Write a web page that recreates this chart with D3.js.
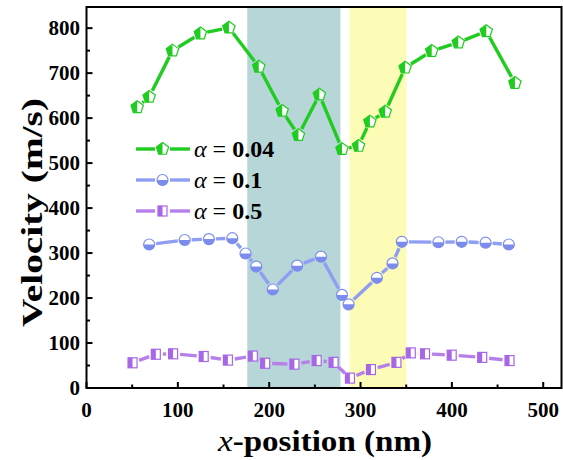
<!DOCTYPE html>
<html>
<head>
<meta charset="utf-8">
<script src="https://cdn.jsdelivr.net/npm/d3@7"></script>
<style>
  body { margin: 0; background: #fff; }
  text { font-family: "Liberation Serif", "Times New Roman", serif; }
</style>
</head>
<body>
<svg id="chart"></svg>
<script>
const width = 563;
const height = 460;

// data
const xGreen = [55.5, 68.6, 94.1, 124.7, 155.9, 188.6, 214.2, 232, 254.9, 279.7, 297.8, 310.2, 327, 348.8, 377.9, 407, 437.6, 469];
const vGreen = [624, 647, 750, 788, 801, 714, 616, 562, 652, 531, 538, 592, 614, 712, 749, 768, 793, 678];
const xBlue = [68.6, 107.5, 134, 159.6, 174.1, 185.8, 203.9, 230.6, 256.7, 279.7, 286.9, 317.9, 335, 345.2, 385.2, 410.7, 436.9, 462.3];
const vBlue = [319, 329, 331, 333, 299, 270, 219, 272, 292, 207, 186, 245, 277, 325, 324, 325, 323, 319];
const xPurple = [50.4, 75.9, 94.8, 128.3, 154.8, 182.1, 195.6, 227.6, 252, 270.5, 288.4, 311.4, 339.3, 355, 370.6, 399.8, 433.2, 463.1];
const vPurple = [56, 75, 76, 70, 62, 71, 55, 53, 61, 57, 22, 41, 57, 78, 76, 73, 68, 61];
const legendLabels = ["0.04", "0.1", "0.5"];
const xTicks = [0, 100, 200, 300, 400, 500];
const yTicks = [0, 100, 200, 300, 400, 500, 600, 700, 800];
const bands = [[176, 278], [288, 350]];

const margin = {top: 7, right: 1.5, bottom: 72, left: 86.5};

const svg = d3.select("#chart")
  .attr("width", width)
  .attr("height", height);

const x = d3.scaleLinear().domain([0, 520]).range([margin.left, width - margin.right]);
const y = d3.scaleLinear().domain([0, 847]).range([height - margin.bottom, margin.top]);

// shaded regions
const bandColors = ["#b6d6d8", "#fdfcb6"];
svg.selectAll("rect.band")
  .data(bands)
  .enter()
  .append("rect")
  .attr("class", "band")
  .attr("x", d => x(d[0]))
  .attr("width", d => x(d[1]) - x(d[0]))
  .attr("y", y(847))
  .attr("height", y(0) - y(847))
  .attr("fill", (d, i) => bandColors[i]);

// inward ticks, major every 100 and minor every 50
const gx = svg.append("g").attr("transform", "translate(0," + y(0) + ")");
gx.selectAll("line")
  .data(d3.range(0, 521, 50))
  .enter()
  .append("line")
  .attr("x1", d => x(d)).attr("x2", d => x(d))
  .attr("y1", 0).attr("y2", d => d % 100 === 0 ? -6 : -3.5)
  .attr("stroke", "#000").attr("stroke-width", 2);

const gy = svg.append("g").attr("transform", "translate(" + x(0) + ",0)");
gy.selectAll("line")
  .data(d3.range(0, 801, 50))
  .enter()
  .append("line")
  .attr("y1", d => y(d)).attr("y2", d => y(d))
  .attr("x1", 0).attr("x2", d => d % 100 === 0 ? 6 : 3.5)
  .attr("stroke", "#000").attr("stroke-width", 2);

// frame
svg.append("rect")
  .attr("x", x(0)).attr("y", y(847))
  .attr("width", x(520) - x(0)).attr("height", y(0) - y(847))
  .attr("fill", "none").attr("stroke", "#000").attr("stroke-width", 2);

// tick labels
svg.append("g").selectAll("text")
  .data(xTicks)
  .enter()
  .append("text")
  .attr("x", d => x(d))
  .attr("y", 417)
  .attr("text-anchor", "middle")
  .attr("font-size", 21)
  .attr("font-weight", "bold")
  .text(d => d);

svg.append("g").selectAll("text")
  .data(yTicks)
  .enter()
  .append("text")
  .attr("x", 80)
  .attr("y", d => y(d) + 7)
  .attr("text-anchor", "end")
  .attr("font-size", 21)
  .attr("font-weight", "bold")
  .text(d => d);

// axis titles (the original is a bit wider than the font, so stretch it)
const xt = svg.append("text")
  .attr("x", 218).attr("y", 451)
  .attr("font-size", 29)
  .attr("font-weight", "bold")
  .attr("textLength", 214)
  .attr("lengthAdjust", "spacingAndGlyphs");
xt.append("tspan").attr("font-style", "italic").attr("font-weight", "normal").text("x");
xt.append("tspan").text("-position (nm)");

svg.append("text")
  .attr("transform", "translate(42,327) rotate(-90)")
  .attr("font-size", 30)
  .attr("font-weight", "bold")
  .attr("textLength", 229)
  .attr("lengthAdjust", "spacingAndGlyphs")
  .text("Velocity (m/s)");

// markers
function pentagonHalf(r) {
  return "M0," + (-r) + "L" + (-0.951 * r) + "," + (-0.309 * r) + "L" + (-0.588 * r) + "," + (0.809 * r) + "L0," + (0.809 * r) + "Z";
}
function pentagon(r) {
  const pts = d3.range(5).map(k => {
    const a = (-90 + k * 72) * Math.PI / 180;
    return [r * Math.cos(a), r * Math.sin(a)];
  });
  return "M" + pts.map(p => p.join(",")).join("L") + "Z";
}

const series = [
  {xs: xGreen, vs: vGreen, line: "#1fcc1f", fill: "#1fcc1f", shape: "pentagon"},
  {xs: xBlue, vs: vBlue, line: "#8e9ef2", fill: "#7b8ced", shape: "circle"},
  {xs: xPurple, vs: vPurple, line: "#b680ea", fill: "#a866e6", shape: "square"}
];

function drawMarker(g, s) {
  if (s.shape === "pentagon") {
    g.append("path").attr("d", pentagon(6.5)).attr("fill", "#fff").attr("stroke", s.fill).attr("stroke-width", 1.2);
    g.append("path").attr("d", pentagonHalf(6.5)).attr("fill", s.fill);
  } else if (s.shape === "circle") {
    g.append("circle").attr("r", 5.5).attr("fill", "#fff").attr("stroke", s.fill).attr("stroke-width", 1.2);
    g.append("path").attr("d", "M-5.5,0A5.5,5.5 0 0,0 5.5,0Z").attr("fill", s.fill);
  } else {
    g.append("rect").attr("x", -4.5).attr("y", -5).attr("width", 9).attr("height", 10)
      .attr("fill", "#fff").attr("stroke", s.fill).attr("stroke-width", 1.2);
    g.append("rect").attr("x", -4.5).attr("y", -5).attr("width", 4.5).attr("height", 10).attr("fill", s.fill);
  }
}

// lines stop short of each marker, as in the original
const gap = 7;
series.forEach(s => {
  const pts = s.xs.map((d, i) => [x(d), y(s.vs[i])]);
  const g = svg.append("g");
  for (let i = 0; i < pts.length - 1; i++) {
    const [x1, y1] = pts[i], [x2, y2] = pts[i + 1];
    const len = Math.hypot(x2 - x1, y2 - y1);
    if (len <= 2 * gap) continue;
    const ux = (x2 - x1) / len, uy = (y2 - y1) / len;
    g.append("line")
      .attr("x1", x1 + ux * gap).attr("y1", y1 + uy * gap)
      .attr("x2", x2 - ux * gap).attr("y2", y2 - uy * gap)
      .attr("stroke", s.line).attr("stroke-width", 3.4);
  }
  pts.forEach(p => {
    drawMarker(g.append("g").attr("transform", "translate(" + p[0] + "," + p[1] + ")"), s);
  });
});

// legend
const legendY = [149, 180, 211];
series.forEach((s, i) => {
  const g = svg.append("g").attr("transform", "translate(0," + legendY[i] + ")");
  g.append("line").attr("x1", 136).attr("x2", 155).attr("stroke", s.line).attr("stroke-width", 3.4);
  g.append("line").attr("x1", 170).attr("x2", 190).attr("stroke", s.line).attr("stroke-width", 3.4);
  drawMarker(g.append("g").attr("transform", "translate(162.5,0)"), s);
  const t = g.append("text").attr("x", 194).attr("y", 8).attr("font-size", 24);
  t.append("tspan").attr("font-style", "italic").text("α");
  t.append("tspan").text(" = ");
  t.append("tspan").attr("font-weight", "bold").text(legendLabels[i]);
});
</script>
</body>
</html>
